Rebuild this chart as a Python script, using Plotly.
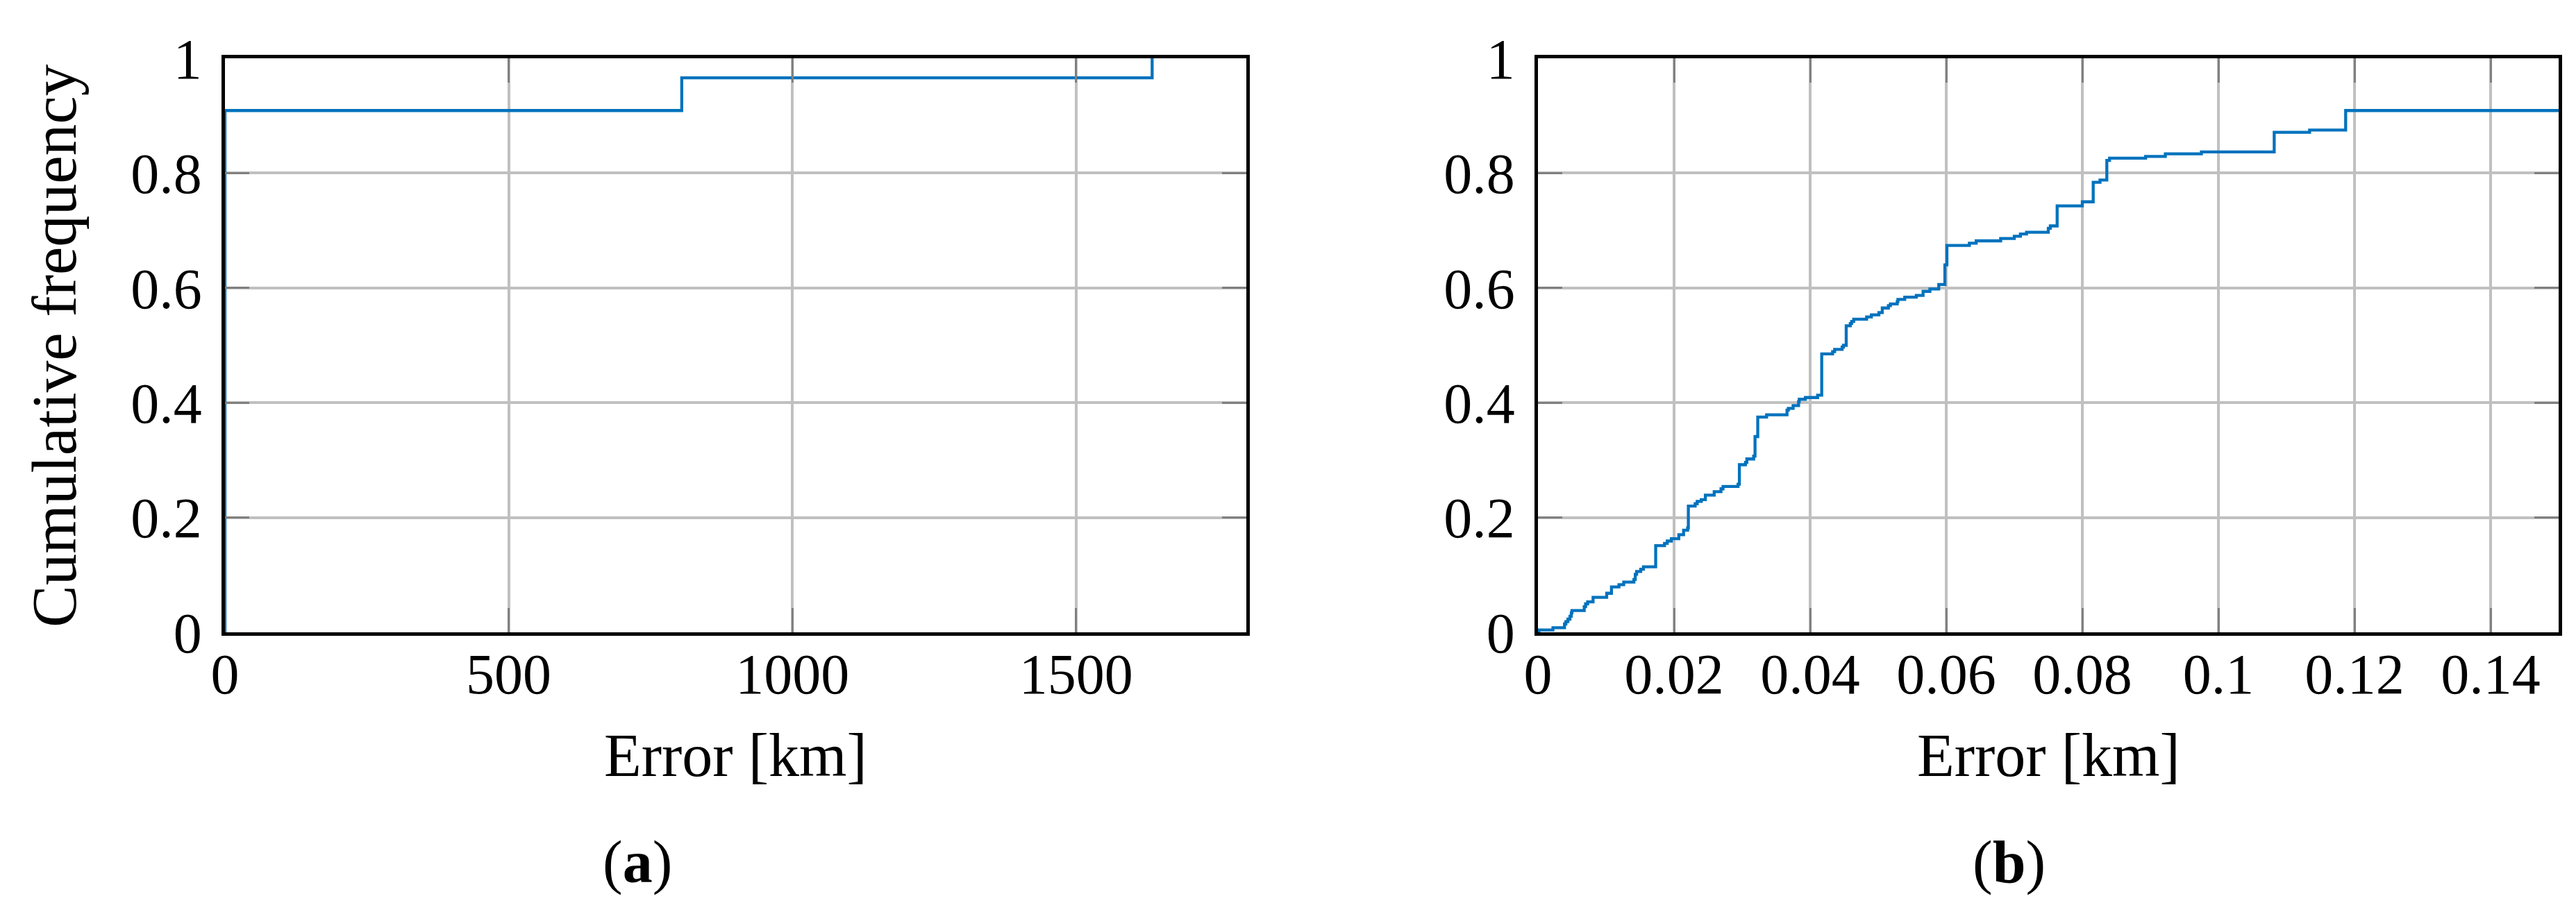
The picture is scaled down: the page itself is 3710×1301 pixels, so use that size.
import plotly.graph_objects as go

# ---------- data ----------
# (a) empirical CDF of error [km], full range
err_a_km = [0, 0, 805, 1634]
cdf_a = [0.0, 0.909, 0.966, 1.0]

# (b) empirical CDF of error [km], zoom on 0..0.15 km
err_b_km = [0.0, 0.00014, 0.0022, 0.0039, 0.0041, 0.0044, 0.0047, 0.0049, 0.0050,
            0.0068, 0.0070, 0.0073, 0.0081, 0.0101, 0.0108, 0.0119, 0.0126,
            0.0141, 0.0143, 0.0145, 0.0151, 0.0155, 0.0173, 0.0186, 0.0190,
            0.0196, 0.0207, 0.0214, 0.0220, 0.0221, 0.0231, 0.0234, 0.0240,
            0.0246, 0.0259, 0.0269, 0.0272, 0.0294, 0.0296, 0.0305, 0.0307,
            0.0317, 0.0319, 0.0323, 0.0336, 0.0366, 0.0368, 0.0375, 0.0383,
            0.0384, 0.0393, 0.0411, 0.0417, 0.0433, 0.0436, 0.0447, 0.0449,
            0.0453, 0.0459, 0.0461, 0.0464, 0.0483, 0.0490, 0.0501, 0.0506,
            0.0515, 0.0518, 0.0528, 0.0529, 0.0539, 0.0556, 0.0566, 0.0576,
            0.0589, 0.0598, 0.0601, 0.0634, 0.0644, 0.0680, 0.0700, 0.0709,
            0.0718, 0.0750, 0.0753, 0.0763, 0.0800, 0.0816, 0.0826, 0.0836,
            0.0840, 0.0893, 0.0922, 0.0975, 0.1082, 0.1134, 0.1187, 0.15]
cdf_b = [0.0, 0.004, 0.008, 0.0145, 0.0185, 0.023, 0.028, 0.034, 0.038,
         0.0447, 0.0496, 0.053, 0.061, 0.068, 0.079, 0.083, 0.0875,
         0.092, 0.101, 0.106, 0.110, 0.114, 0.151, 0.155, 0.159,
         0.163, 0.170, 0.178, 0.182, 0.220, 0.224, 0.228, 0.231,
         0.239, 0.245, 0.250, 0.254, 0.258, 0.292, 0.296, 0.302,
         0.307, 0.341, 0.375, 0.379, 0.387, 0.390, 0.395, 0.402,
         0.406, 0.409, 0.413, 0.485, 0.489, 0.493, 0.497, 0.500,
         0.534, 0.538, 0.5415, 0.5455, 0.5495, 0.553, 0.557, 0.565,
         0.569, 0.572, 0.576, 0.580, 0.584, 0.587, 0.594, 0.598,
         0.606, 0.640, 0.674, 0.678, 0.682, 0.686, 0.690, 0.694,
         0.697, 0.704, 0.708, 0.743, 0.750, 0.784, 0.788, 0.822,
         0.826, 0.829, 0.8335, 0.837, 0.871, 0.875, 0.909, 0.909]

xticks_a = [0, 500, 1000, 1500]
xticktext_a = ["0", "500", "1000", "1500"]
xticks_b = [0, 0.02, 0.04, 0.06, 0.08, 0.10, 0.12, 0.14]
xticktext_b = ["0", "0.02", "0.04", "0.06", "0.08", "0.1", "0.12", "0.14"]
yticks = [0, 0.2, 0.4, 0.6, 0.8, 1.0]
yticktext = ["0", "0.2", "0.4", "0.6", "0.8", "1"]

x_title = "Error [km]"
y_title = "Cumulative frequency"
sub_a = "(<b>a</b>)"
sub_b = "(<b>b</b>)"

# ---------- styling ----------
W, H = 3710, 1301
FONT = "Liberation Serif"
BLUE = "#0072BD"
TICKFONT = dict(family=FONT, size=82, color="black")

fig = go.Figure()
fig.add_trace(go.Scatter(x=err_a_km, y=cdf_a, mode="lines", line_shape="hv",
                         line=dict(color=BLUE, width=4.3), xaxis="x", yaxis="y",
                         showlegend=False, hoverinfo="skip"))
fig.add_trace(go.Scatter(x=err_b_km, y=cdf_b, mode="lines", line_shape="hv",
                         line=dict(color=BLUE, width=4.3), xaxis="x2", yaxis="y2",
                         showlegend=False, hoverinfo="skip"))

common_axis = dict(showline=True, linecolor="black", linewidth=4.5, mirror="allticks",
                   ticks="inside", ticklen=35, tickwidth=3, tickcolor="#808080",
                   showgrid=True, gridcolor="#c0c0c0", gridwidth=4,
                   zeroline=False, tickfont=TICKFONT, automargin=False)

dom_y = [(H - 903) / H, (H - 76) / H]
fig.update_layout(
    width=W, height=H,
    margin=dict(l=0, r=0, t=0, b=0),
    paper_bgcolor="white", plot_bgcolor="white",
    xaxis=dict(domain=[316 / W, 1787 / W], range=[0, 1800],
               tickvals=xticks_a, ticktext=xticktext_a, anchor="y",
               ticklabelstandoff=-15, **common_axis),
    yaxis=dict(domain=dom_y, range=[0, 1],
               tickvals=yticks, ticktext=yticktext, anchor="x",
               ticklabelstandoff=12, **common_axis),
    xaxis2=dict(domain=[2207 / W, 3677 / W], range=[0, 0.15],
                tickvals=xticks_b, ticktext=xticktext_b, anchor="y2",
                ticklabelstandoff=-15, **common_axis),
    yaxis2=dict(domain=dom_y, range=[0, 1],
                tickvals=yticks, ticktext=yticktext, anchor="x2",
                ticklabelstandoff=12, **common_axis),
)

ann_font = dict(family=FONT, size=88, color="black")
fig.add_annotation(text=x_title, x=(316 + 1787) / 2 / W, y=(H - 1080) / H,
                   xref="paper", yref="paper", showarrow=False,
                   xanchor="center", yanchor="middle", font=ann_font)
fig.add_annotation(text=x_title, x=(2207 + 3677) / 2 / W, y=(H - 1080) / H,
                   xref="paper", yref="paper", showarrow=False,
                   xanchor="center", yanchor="middle", font=ann_font)
fig.add_annotation(text=y_title, x=71 / W, y=(H - 490) / H, textangle=-90,
                   xref="paper", yref="paper", showarrow=False,
                   xanchor="center", yanchor="middle",
                   font=dict(family=FONT, size=91, color="black"))
fig.add_annotation(text=sub_a, x=910 / W, y=(H - 1234) / H,
                   xref="paper", yref="paper", showarrow=False,
                   xanchor="center", yanchor="middle",
                   font=dict(family=FONT, size=86, color="black"))
fig.add_annotation(text=sub_b, x=2885 / W, y=(H - 1234) / H,
                   xref="paper", yref="paper", showarrow=False,
                   xanchor="center", yanchor="middle",
                   font=dict(family=FONT, size=86, color="black"))

fig.write_html("out.html")
